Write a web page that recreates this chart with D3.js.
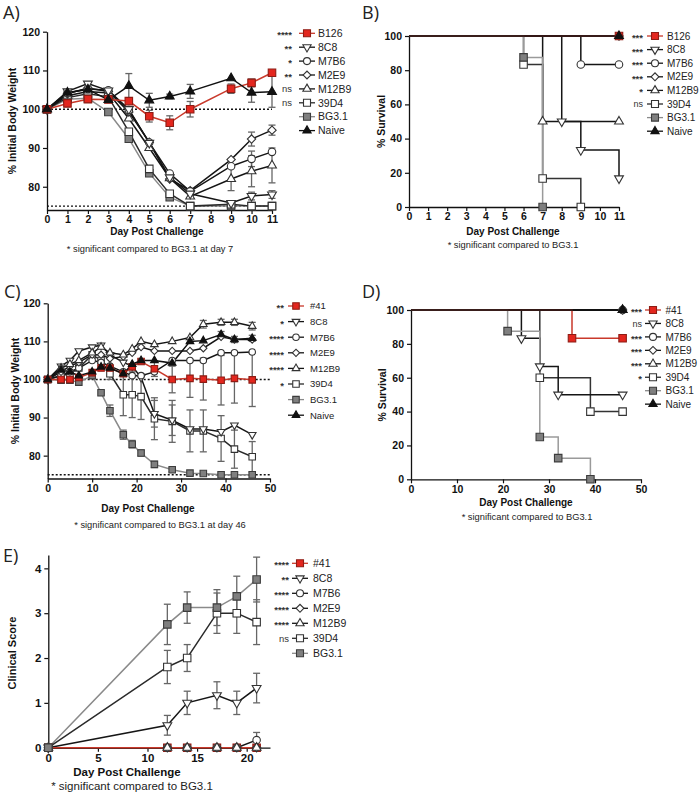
<!DOCTYPE html>
<html><head><meta charset="utf-8">
<script src="https://cdn.jsdelivr.net/npm/d3@7"></script>
<style>body{margin:0;background:#fff} svg{display:block}</style>
</head><body>
<svg id="c" width="700" height="799"></svg>
<script>
// ===================== DATA =====================
// Panel A: body weight (days 0-11)
const daysA = [0,1,2,3,4,5,6,7,9,10,11];
const namesA = ["B126","8C8","M7B6","M2E9","M12B9","39D4","BG3.1","Naive"];
const starsA = ["****","**","*","**","ns","ns","",""];
const A_B126  = [100,101.5,102.6,102.5,102.1,98.2,96.5,100,105.3,106.8,109.4];
const A_B126e = [0,0,0,0,0,1.5,1.8,2,1.2,1,0];
const A_8C8   = [100,104.6,106.6,104.8,100,91.3,82.4,78.2,75.8,77.6,78];
const A_8C8e  = [0,0,0,0,0,0,0,0,0,1,1];
const A_M7B6  = [100,104.2,105.2,104.9,99.8,91.4,83.4,78.8,85.3,87.2,89];
const A_M7B6e = [0,0,0,0,0,0,0,0,0,2,0];
const A_M2E9  = [100,104,105.5,104.6,99.3,91.5,82,79,87,92.3,94.6];
const A_M2E9e = [0,0,0,0,0,0,0,0,0,1.8,1.3];
const A_M12B9 = [100,103.5,104.6,104.2,97.6,90,82.2,77.5,82,84,85.5];
const A_M12B9e= [0,0,0,0,0,0,0,0,3,4,4.5];
const A_39D4  = [100,103,104,103.2,94.2,84.6,78.2,75,75.5,75,75];
const A_BG31  = [100,102.6,102.8,99.3,92.4,83.5,77.3,75,75,75,75];
const A_Naive = [100,104.3,105.1,102.4,106,102.3,103.3,104.6,108,104.3,104.5];
const A_Naivee= [0,0,0,0,3.2,1.8,0.6,1.8,0,2.5,4];

// Panel B: survival steps [day, %]
const namesB = ["B126","8C8","M7B6","M2E9","M12B9","39D4","BG3.1","Naive"];
const starsB = ["***","***","***","***","*","ns","",""];
const B_B126  = [[0,100],[11,100]];
const B_8C8   = [[0,100],[8,50],[9,33.3],[11,16.7]];
const B_M7B6  = [[0,100],[9,83.3],[11,83.3]];
const B_M2E9  = [[0,100],[11,100]];
const B_M12B9 = [[0,100],[7,50],[11,50]];
const B_39D4  = [[0,100],[6,83.3],[7,16.7],[9,0]];
const B_BG31  = [[0,100],[6,87.5],[7,0]];
const B_Naive = [[0,100],[11,100]];

// Panel C: body weight (days 0-46)
const daysC = [0,3,5,7,10,12,14,17,19,21,24,28,32,35,39,42,46];
const namesC = ["#41","8C8","M7B6","M2E9","M12B9","39D4","BG3.1","Naive"];
const starsC = ["**","*","****","****","****","*","",""];
const C_41    = [100,100,100,100.5,101.8,103,103,101.5,103.3,104.7,102.8,100,100.3,100.1,99.8,100.3,99.9];
const C_41e   = [0,0,0,0,0,0,0,0,0,0,2,3.5,5,5.5,6.5,6.5,7];
const C_8C8   = [100,103.5,105,107.5,108.5,109,106.5,104.5,103.5,100.5,91,89.3,87,87,86.3,88,85.5];
const C_8C8e  = [0,0,0,0,0,0,0,0,0,0,3.5,4,0,0,0,0,0];
const C_M7B6  = [100,101,102,103,105,104.5,103.5,102,101,101,102,105,105,105,107,107,107.2];
const C_M2E9  = [100,102,103.5,104.5,106.5,106.5,105.5,106,107,108.5,107.5,107.5,107.5,108.2,111.2,110.5,110.5];
const C_M12B9 = [100,103,104,105,107,108.5,107,106.5,108,110,109.2,110,111,114.5,115,115,114];
const C_M12B9e= [0,0,0,0,0,0,0,0,0,0,0,0,0,1,0.8,0.8,1];
const C_39D4  = [100,101,101.5,103,106.5,105,101.5,96,96,95.5,89.7,89,86.5,86.5,84.5,81.7,79.7];
const C_39D4e = [0,0,0,0,0,0,1.5,5.5,6,6,5.5,5.5,5.5,5.5,6,5,4];
const C_BG31  = [100,99.8,99.8,99.3,101,96.5,91.8,85.5,83,80.7,77.7,76.3,75.4,75.3,75,75,75];
const C_BG31e = [0,0,0,0,0,0,1.5,1.2,1,0.8,0.8,0.5,0,0,0,0,0];
const C_Naive = [100,102.5,102,101,102,103.3,103,101.5,104,105,105,104.3,110,110.2,111.8,110.5,110.8];
const C_Naivee= [0,0,0,0,0,0,0,0,0,0,0,0,0,0,0.8,0.8,0.8];

// Panel D: survival steps
const namesD = ["#41","8C8","M7B6","M2E9","M12B9","39D4","BG3.1","Naive"];
const starsD = ["***","ns","***","***","***","*","",""];
const D_41    = [[0,100],[35,83.3],[46,83.3]];
const D_8C8   = [[0,100],[24,83.3],[28,66.7],[32,50],[46,50]];
const D_M7B6  = [[0,100],[46,100]];
const D_M2E9  = [[0,100],[46,100]];
const D_M12B9 = [[0,100],[46,100]];
const D_39D4  = [[0,100],[28,60],[39,40],[46,40]];
const D_BG31  = [[0,100],[21,87.5],[28,25],[32,12.5],[39,0]];
const D_Naive = [[0,100],[46,100]];

// Panel E: clinical score
const daysE = [0,12,14,17,19,21];
const namesE = ["#41","8C8","M7B6","M2E9","M12B9","39D4","BG3.1"];
const starsE = ["****","**","****","****","****","ns",""];
const E_41    = [0,0,0,0,0,0];
const E_8C8   = [0,0.5,1.0,1.17,1.0,1.33];
const E_8C8e  = [0,0.22,0.26,0.3,0.26,0.33];
const E_M7B6  = [0,0,0,0,0,0.17];
const E_M7B6e = [0,0,0,0,0,0.17];
const E_M2E9  = [0,0,0,0,0,0];
const E_M12B9 = [0,0,0,0,0,0];
const E_39D4  = [0,1.8,2.0,3.0,3.0,2.8];
const E_39D4e = [0,0.37,0.3,0.45,0.45,0.5];
const E_BG31  = [0,2.75,3.125,3.125,3.375,3.75];
const E_BG31e = [0,0.45,0.35,0.4,0.45,0.5];

// ===================== DRAWING =====================
const svg = d3.select("#c");
const FONT = "'Liberation Sans', Arial, Helvetica, sans-serif";
const RED = "#e3261e", REDLINE = "#c9392b";
const redStyle = {sym:"square", fill:RED, stroke:"#8e1c14", line:REDLINE, sline:REDLINE};
const styles = {
  "B126": redStyle, "#41": redStyle,
  "8C8":  {sym:"tridown", fill:"#fff", stroke:"#333", line:"#151515", sline:"#151515"},
  "M7B6": {sym:"circle",  fill:"#fff", stroke:"#333", line:"#151515", sline:"#151515"},
  "M2E9": {sym:"diamond", fill:"#fff", stroke:"#333", line:"#151515", sline:"#151515"},
  "M12B9":{sym:"triup",   fill:"#fff", stroke:"#333", line:"#151515", sline:"#151515"},
  "39D4": {sym:"square",  fill:"#fff", stroke:"#333", line:"#2a2a2a", sline:"#333"},
  "BG3.1":{sym:"square",  fill:"#7f7f7f", stroke:"#3c3c3c", line:"#8a8a8a", sline:"#9a9a9a"},
  "Naive":{sym:"triup",   fill:"#111", stroke:"#111", line:"#111", sline:"#111"}
};
function markerPath(sym, w) {
  if (sym === "square")  return {d: d3.symbol(d3.symbolSquare, w*w)(), rot:0};
  if (sym === "circle")  return {d: d3.symbol(d3.symbolCircle, Math.PI*w*w/4)(), rot:0};
  if (sym === "diamond") return {d: d3.symbol(d3.symbolSquare, w*w*0.62)(), rot:45};
  if (sym === "triup")   return {d: d3.symbol(d3.symbolTriangle, w*w*0.6)(), rot:0};
  return {d: d3.symbol(d3.symbolTriangle, w*w*0.6)(), rot:180};
}
function marker(g, name, x, y, w) {
  const s = styles[name], m = markerPath(s.sym, w);
  g.append("path").attr("d", m.d)
   .attr("transform", `translate(${x},${y}) rotate(${m.rot})`)
   .attr("fill", s.fill).attr("stroke", s.stroke).attr("stroke-width", 1.1);
}
function txt(x, y, s, size, opts = {}) {
  const t = svg.append("text").attr("x", x).attr("y", y).text(s)
    .attr("font-family", opts.family || FONT).attr("font-size", size)
    .attr("font-weight", opts.bold ? "bold" : "normal")
    .attr("fill", opts.fill || "#111")
    .attr("text-anchor", opts.anchor || "middle");
  if (opts.rotate) t.attr("transform", `rotate(-90,${x},${y})`).attr("dominant-baseline", "central");
  return t;
}
function axes(o, x, y) {
  const gx = svg.append("g").attr("transform", `translate(0,${o.bottom})`)
    .call(d3.axisBottom(x).tickValues(o.xticks).tickSize(4).tickSizeOuter(0).tickPadding(2).tickFormat(d3.format("d")));
  const gy = svg.append("g").attr("transform", `translate(${o.left},0)`)
    .call(d3.axisLeft(y).tickValues(o.yticks).tickSize(4).tickSizeOuter(0).tickPadding(3).tickFormat(d3.format("d")));
  [gx, gy].forEach(g => {
    g.selectAll("path.domain").attr("stroke", "#111").attr("stroke-width", 1.3);
    g.selectAll(".tick line").attr("stroke", "#111").attr("stroke-width", 1.2);
    g.selectAll("text").attr("font-family", FONT).attr("font-weight", "bold")
      .attr("font-size", o.tickSize).attr("fill", "#111");
  });
}
function legend(o) {
  o.names.forEach((n, i) => {
    const yy = o.y0 + i*o.step, s = styles[n];
    const st = o.stars[i];
    if (st) {
      if (st === "ns") txt(o.starX, yy + o.fs*0.33, st, o.fs*0.9, {anchor:"end", fill:"#333"});
      else txt(o.starX, yy + 5, st, 9.5, {anchor:"end", fill:"#333", bold:true});
    }
    svg.append("line").attr("x1", o.symX - 8).attr("x2", o.symX + 8).attr("y1", yy).attr("y2", yy)
      .attr("stroke", s.line).attr("stroke-width", 1.3);
    marker(svg, n, o.symX, yy, o.ms);
    txt(o.labX, yy + o.fs*0.36, n, o.fs, {anchor:"start", fill:"#222"});
  });
}
function seriesPanel(o) {
  const x = d3.scaleLinear().domain(o.xdom).range([o.left, o.right]);
  const y = d3.scaleLinear().domain(o.ydom).range([o.bottom, o.top]);
  (o.dotted || []).forEach(v => {
    svg.append("line").attr("x1", x(o.dotFrom)).attr("x2", x(o.dotTo)).attr("y1", y(v)).attr("y2", y(v))
      .attr("stroke", "#111").attr("stroke-width", 1.4).attr("stroke-dasharray", "2,2");
  });
  axes(o, x, y);
  const g = svg.append("g");
  o.order.forEach(k => {
    const sr = o.series[k]; if (!sr.errs) return;
    const col = "#666";
    sr.errs.forEach((e, i) => {
      if (!e) return;
      const xx = x(o.days[i]);
      g.append("line").attr("x1", xx).attr("x2", xx).attr("y1", y(sr.vals[i]-e)).attr("y2", y(sr.vals[i]+e))
        .attr("stroke", col).attr("stroke-width", 1.3);
      [sr.vals[i]-e, sr.vals[i]+e].forEach(v => g.append("line").attr("x1", xx-3.5).attr("x2", xx+3.5)
        .attr("y1", y(v)).attr("y2", y(v)).attr("stroke", col).attr("stroke-width", 1.3));
    });
  });
  const line = d3.line().x((d, i) => x(o.days[i])).y(d => y(d));
  (o.lineOrder || o.order).forEach(k => {
    const sr = o.series[k];
    g.append("path").attr("d", line(sr.vals)).attr("fill", "none")
      .attr("stroke", styles[sr.name].line).attr("stroke-width", 1.5);
  });
  o.order.forEach(k => {
    const sr = o.series[k];
    sr.vals.forEach((v, i) => marker(g, sr.name, x(o.days[i]), y(v), o.ms));
  });
}
function survivalPanel(o) {
  const x = d3.scaleLinear().domain(o.xdom).range([o.left, o.right]);
  const y = d3.scaleLinear().domain(o.ydom).range([o.bottom, o.top]);
  axes(o, x, y);
  const g = svg.append("g");
  const line = d3.line().x(d => x(d[0])).y(d => y(d[1])).curve(d3.curveStepAfter);
  o.order.forEach(k => {
    const sr = o.series[k];
    g.append("path").attr("d", line(sr.pts)).attr("fill", "none")
      .attr("stroke", styles[sr.name].sline).attr("stroke-width", 1.5);
  });
  o.order.forEach(k => {
    const sr = o.series[k];
    sr.pts.slice(1).forEach(p => marker(g, sr.name, x(p[0]), y(p[1]), o.ms));
  });
}

// ---------- Panel A ----------
txt(3, 19, "A)", 18, {anchor:"start", family:"'Open Sans', 'Noto Sans', sans-serif", fill:"#222"});
seriesPanel({
  left:47, right:272, top:31.7, bottom:210, xdom:[0,11], ydom:[74,120],
  xticks:d3.range(0,12), yticks:[80,90,100,110,120], tickSize:10.5,
  days:daysA, dotted:[100,75], dotFrom:0, dotTo:11, ms:7.5,
  series:[
    {name:"B126", vals:A_B126, errs:A_B126e},
    {name:"8C8", vals:A_8C8, errs:A_8C8e},
    {name:"M7B6", vals:A_M7B6, errs:A_M7B6e},
    {name:"M2E9", vals:A_M2E9, errs:A_M2E9e},
    {name:"M12B9", vals:A_M12B9, errs:A_M12B9e},
    {name:"39D4", vals:A_39D4},
    {name:"BG3.1", vals:A_BG31},
    {name:"Naive", vals:A_Naive, errs:A_Naivee}
  ],
  order:[6,5,4,3,2,1,0,7]
});
txt(12, 121, "% Initial Body Weight", 10.5, {bold:true, rotate:true});
txt(157, 235, "Day Post Challenge", 10, {bold:true});
txt(150, 252, "* significant compared to BG3.1 at day 7", 9.3, {fill:"#222"});
legend({names:namesA, stars:starsA, y0:33.3, step:13.9, starX:292, symX:307, labX:318, fs:10.5, ms:7});

// ---------- Panel B ----------
txt(362, 19, "B)", 18, {anchor:"start", family:"'Open Sans', 'Noto Sans', sans-serif", fill:"#222"});
survivalPanel({
  left:409, right:619, top:36, bottom:207, xdom:[0,11], ydom:[0,100],
  xticks:d3.range(0,12), yticks:[0,20,40,60,80,100], tickSize:10.5, ms:7.5,
  series:[
    {name:"B126", pts:B_B126}, {name:"8C8", pts:B_8C8}, {name:"M7B6", pts:B_M7B6},
    {name:"M2E9", pts:B_M2E9}, {name:"M12B9", pts:B_M12B9}, {name:"39D4", pts:B_39D4},
    {name:"BG3.1", pts:B_BG31}, {name:"Naive", pts:B_Naive}
  ],
  order:[3,2,4,1,5,6,0,7]
});
txt(381, 121.5, "% Survival", 10.5, {bold:true, rotate:true});
txt(513, 235, "Day Post Challenge", 10, {bold:true});
txt(513, 248, "* significant compared to BG3.1", 9.3, {fill:"#222"});
legend({names:namesB, stars:starsB, y0:36, step:13.6, starX:643, symX:655, labX:667, fs:10, ms:7});

// ---------- Panel C ----------
txt(4, 298, "C)", 18, {anchor:"start", family:"'Open Sans', 'Noto Sans', sans-serif", fill:"#222"});
seriesPanel({
  left:47.7, right:270, top:303.3, bottom:478.5, xdom:[0,50], ydom:[74,120],
  xticks:[0,10,20,30,40,50], yticks:[80,90,100,110,120], tickSize:10.5,
  days:daysC, dotted:[100,75], dotFrom:0, dotTo:50, ms:6.5,
  series:[
    {name:"#41", vals:C_41, errs:C_41e},
    {name:"8C8", vals:C_8C8, errs:C_8C8e},
    {name:"M7B6", vals:C_M7B6},
    {name:"M2E9", vals:C_M2E9},
    {name:"M12B9", vals:C_M12B9, errs:C_M12B9e},
    {name:"39D4", vals:C_39D4, errs:C_39D4e},
    {name:"BG3.1", vals:C_BG31, errs:C_BG31e},
    {name:"Naive", vals:C_Naive, errs:C_Naivee}
  ],
  order:[6,5,1,2,3,4,0,7]
});
txt(15, 391, "% Initial Body Weight", 10.5, {bold:true, rotate:true});
txt(148, 512, "Day Post Challenge", 10, {bold:true});
txt(160, 528, "* significant compared to BG3.1 at day 46", 9.3, {fill:"#222"});
legend({names:namesC, stars:starsC, y0:306, step:15.6, starX:284, symX:296, labX:310, fs:9.5, ms:6.5});

// ---------- Panel D ----------
txt(362, 298, "D)", 18, {anchor:"start", family:"'Open Sans', 'Noto Sans', sans-serif", fill:"#222"});
survivalPanel({
  left:411, right:641, top:310, bottom:479.3, xdom:[0,50], ydom:[0,100],
  xticks:[0,10,20,30,40,50], yticks:[0,20,40,60,80,100], tickSize:10.5, ms:7.5,
  series:[
    {name:"#41", pts:D_41}, {name:"8C8", pts:D_8C8}, {name:"M7B6", pts:D_M7B6},
    {name:"M2E9", pts:D_M2E9}, {name:"M12B9", pts:D_M12B9}, {name:"39D4", pts:D_39D4},
    {name:"BG3.1", pts:D_BG31}, {name:"Naive", pts:D_Naive}
  ],
  order:[2,3,4,5,1,6,0,7]
});
txt(382, 395, "% Survival", 10.5, {bold:true, rotate:true});
txt(526, 505.5, "Day Post Challenge", 10, {bold:true});
txt(527, 520, "* significant compared to BG3.1", 9.3, {fill:"#222"});
legend({names:namesD, stars:starsD, y0:310, step:13.45, starX:642, symX:653, labX:665.5, fs:10, ms:7});

// ---------- Panel E ----------
txt(3, 562, "E)", 18, {anchor:"start", family:"'Open Sans', 'Noto Sans', sans-serif", fill:"#222"});
seriesPanel({
  left:48.3, right:270, top:554.9, bottom:747.7, xdom:[0,22.35], ydom:[0,4.3],
  xticks:[0,5,10,15,20], yticks:[0,1,2,3,4], tickSize:11.5,
  days:daysE, ms:7.5,
  series:[
    {name:"#41", vals:E_41},
    {name:"8C8", vals:E_8C8, errs:E_8C8e},
    {name:"M7B6", vals:E_M7B6, errs:E_M7B6e},
    {name:"M2E9", vals:E_M2E9},
    {name:"M12B9", vals:E_M12B9},
    {name:"39D4", vals:E_39D4, errs:E_39D4e},
    {name:"BG3.1", vals:E_BG31, errs:E_BG31e}
  ],
  lineOrder:[6,5,1,2,3,4,0],
  order:[0,2,3,4,1,5,6]
});
txt(12, 653, "Clinical Score", 11, {bold:true, rotate:true});
txt(127, 775.5, "Day Post Challenge", 11.5, {bold:true});
txt(132, 790, "* significant compared to BG3.1", 11.5, {fill:"#222"});
legend({names:namesE, stars:starsE, y0:563.3, step:15, starX:289, symX:300, labX:313, fs:10.5, ms:7});
</script>
</body></html>
